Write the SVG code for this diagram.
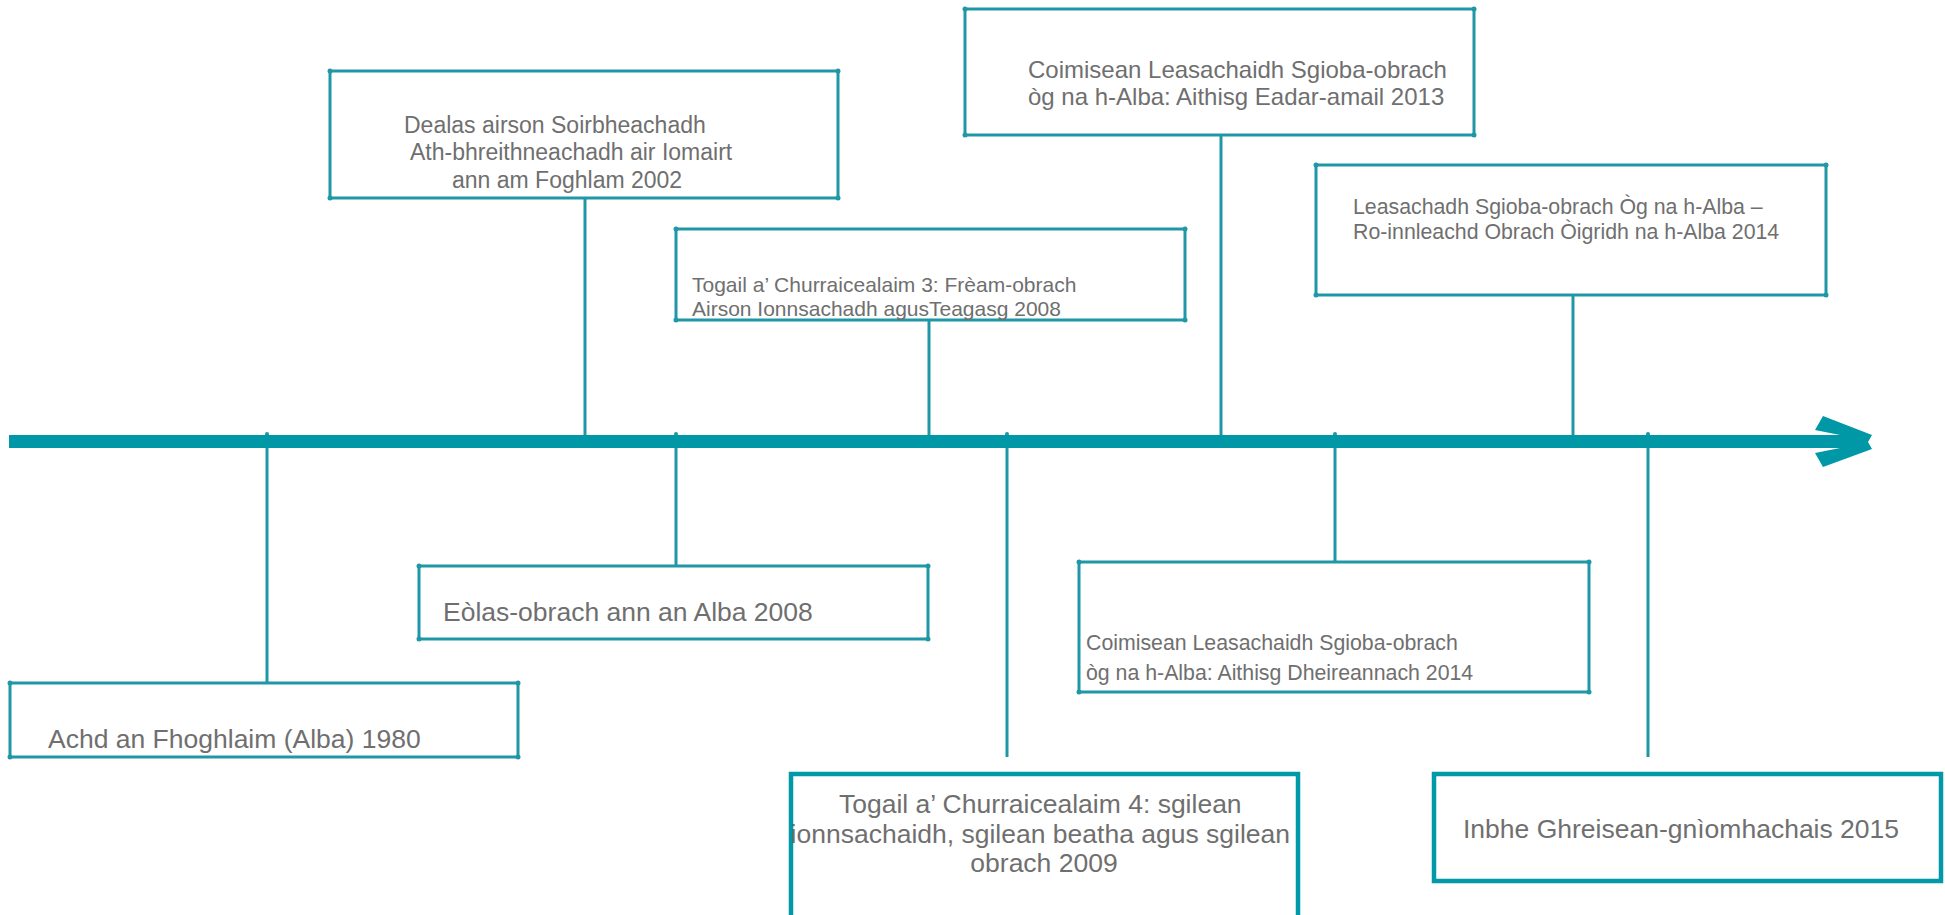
<svg xmlns="http://www.w3.org/2000/svg" width="1945" height="915" viewBox="0 0 1945 915">
  <style>
    .box { fill: #ffffff; stroke: #2097a6; stroke-width: 3; }
    .boxb { fill: #ffffff; stroke: #0099a8; stroke-width: 4.5; }
    .dot { fill: #2097a6; }
    .conn { stroke: #1f97a6; stroke-width: 3; fill: none; }
    .t { font-family: "Liberation Sans", Arial, sans-serif; fill: #6f6f6f; }
  </style>
  <rect x="0" y="0" width="1945" height="915" fill="#ffffff"/>

  <g id="connectors">
    <line class="conn" x1="267" y1="434" x2="267" y2="683"/>
    <line class="conn" x1="585" y1="198" x2="585" y2="440"/>
    <line class="conn" x1="676" y1="440" x2="676" y2="566"/>
    <line class="conn" x1="929" y1="320" x2="929" y2="440"/>
    <line class="conn" x1="1007" y1="434" x2="1007" y2="757"/>
    <line class="conn" x1="1221" y1="135" x2="1221" y2="440"/>
    <line class="conn" x1="1335" y1="434" x2="1335" y2="562"/>
    <line class="conn" x1="1573" y1="295" x2="1573" y2="440"/>
    <line class="conn" x1="1648" y1="434" x2="1648" y2="757"/>
    <circle class="dot" cx="267" cy="434" r="2"/>
    <circle class="dot" cx="676" cy="434" r="2"/>
    <circle class="dot" cx="1007" cy="434" r="2"/>
    <circle class="dot" cx="1335" cy="434" r="2"/>
    <circle class="dot" cx="1648" cy="434" r="2"/>
  </g>

  <g id="timeline">
    <rect x="9" y="435" width="1840" height="13" fill="#0097a7"/>
    <polygon points="1815,430 1823,416 1872,435 1868,442 1872,449 1823,467 1815,453 1840,448 1840,435" fill="#0097a7"/>
  </g>

  <g id="node-dealas">
    <rect class="box" x="330" y="71" width="508" height="127"/>
    <circle class="dot" cx="330" cy="71" r="2.5"/><circle class="dot" cx="838" cy="71" r="2.5"/>
    <circle class="dot" cx="330" cy="198" r="2.5"/><circle class="dot" cx="838" cy="198" r="2.5"/>
    <text class="t" font-size="23">
      <tspan x="404" y="133">Dealas airson Soirbheachadh</tspan>
      <tspan x="410" y="160">Ath-bhreithneachadh air Iomairt</tspan>
      <tspan x="452" y="188">ann am Foghlam 2002</tspan>
    </text>
  </g>

  <g id="node-togail3">
    <rect class="box" x="676" y="229" width="509" height="91"/>
    <circle class="dot" cx="676" cy="229" r="2.5"/><circle class="dot" cx="1185" cy="229" r="2.5"/>
    <circle class="dot" cx="676" cy="320" r="2.5"/><circle class="dot" cx="1185" cy="320" r="2.5"/>
    <text class="t" font-size="21">
      <tspan x="692" y="292">Togail a’ Churraicealaim 3: Frèam-obrach</tspan>
      <tspan x="692" y="316">Airson Ionnsachadh agusTeagasg 2008</tspan>
    </text>
  </g>

  <g id="node-coimisean2013">
    <rect class="box" x="965" y="9" width="509" height="126"/>
    <circle class="dot" cx="965" cy="9" r="2.5"/><circle class="dot" cx="1474" cy="9" r="2.5"/>
    <circle class="dot" cx="965" cy="135" r="2.5"/><circle class="dot" cx="1474" cy="135" r="2.5"/>
    <text class="t" font-size="24">
      <tspan x="1028" y="78">Coimisean Leasachaidh Sgioba-obrach</tspan>
      <tspan x="1028" y="105">òg na h-Alba: Aithisg Eadar-amail 2013</tspan>
    </text>
  </g>

  <g id="node-leasachadh">
    <rect class="box" x="1316" y="165" width="510" height="130"/>
    <circle class="dot" cx="1316" cy="165" r="2.5"/><circle class="dot" cx="1826" cy="165" r="2.5"/>
    <circle class="dot" cx="1316" cy="295" r="2.5"/><circle class="dot" cx="1826" cy="295" r="2.5"/>
    <text class="t" font-size="21.3">
      <tspan x="1353" y="214">Leasachadh Sgioba-obrach Òg na h-Alba –</tspan>
      <tspan x="1353" y="239">Ro-innleachd Obrach Òigridh na h-Alba 2014</tspan>
    </text>
  </g>

  <g id="node-achd">
    <rect class="box" x="10" y="683" width="508" height="74"/>
    <circle class="dot" cx="10" cy="683" r="2.5"/><circle class="dot" cx="518" cy="683" r="2.5"/>
    <circle class="dot" cx="10" cy="757" r="2.5"/><circle class="dot" cx="518" cy="757" r="2.5"/>
    <text class="t" font-size="26.5" x="48" y="748">Achd an Fhoghlaim (Alba) 1980</text>
  </g>

  <g id="node-eolas">
    <rect class="box" x="419" y="566" width="509" height="73"/>
    <circle class="dot" cx="419" cy="566" r="2.5"/><circle class="dot" cx="928" cy="566" r="2.5"/>
    <circle class="dot" cx="419" cy="639" r="2.5"/><circle class="dot" cx="928" cy="639" r="2.5"/>
    <text class="t" font-size="26.5" x="443" y="621">Eòlas-obrach ann an Alba 2008</text>
  </g>

  <g id="node-coimisean2014">
    <rect class="box" x="1079" y="562" width="510" height="130"/>
    <circle class="dot" cx="1079" cy="562" r="2.5"/><circle class="dot" cx="1589" cy="562" r="2.5"/>
    <circle class="dot" cx="1079" cy="692" r="2.5"/><circle class="dot" cx="1589" cy="692" r="2.5"/>
    <text class="t" font-size="21.3">
      <tspan x="1086" y="650">Coimisean Leasachaidh Sgioba-obrach</tspan>
      <tspan x="1086" y="680">òg na h-Alba: Aithisg Dheireannach 2014</tspan>
    </text>
  </g>

  <g id="node-togail4">
    <rect class="boxb" x="791" y="774" width="507" height="160"/>
    <text class="t" font-size="26.5" text-anchor="middle">
      <tspan x="1044" y="813">Togail a’ Churraicealaim 4: sgilean</tspan>
      <tspan x="1044" y="843">ionnsachaidh, sgilean beatha agus sgilean</tspan>
      <tspan x="1044" y="872">obrach 2009</tspan>
    </text>
  </g>

  <g id="node-inbhe">
    <rect class="boxb" x="1434" y="774" width="507" height="107"/>
    <text class="t" font-size="26.5" x="1463" y="838">Inbhe Ghreisean-gnìomhachais 2015</text>
  </g>
</svg>
